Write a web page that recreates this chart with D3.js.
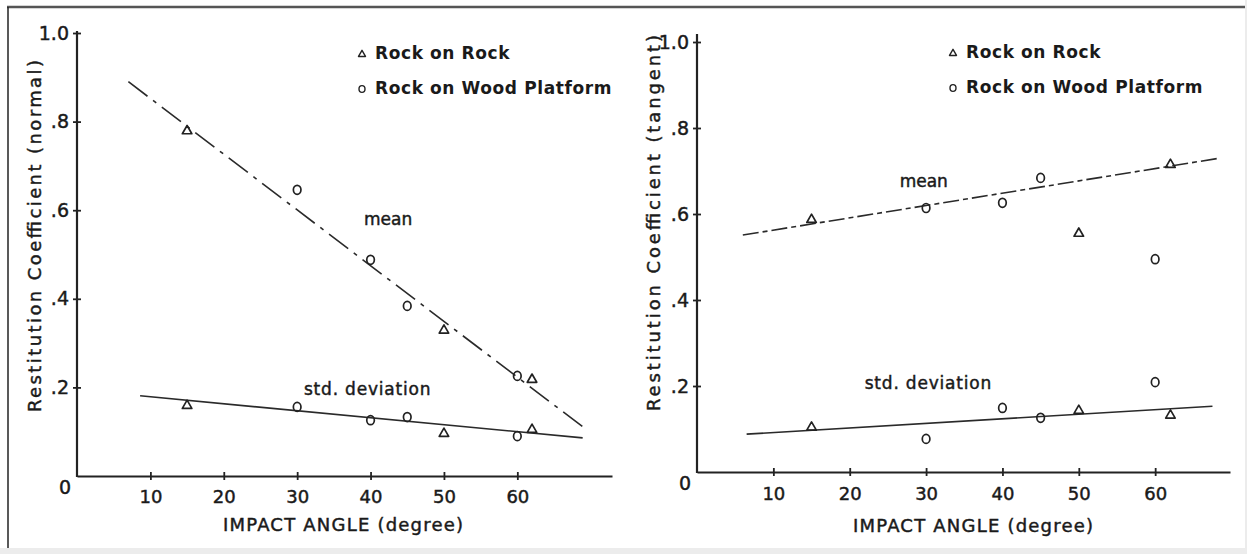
<!DOCTYPE html>
<html>
<head>
<meta charset="utf-8">
<script src="https://cdn.jsdelivr.net/npm/d3@7"></script>
<style>
  html, body { margin: 0; padding: 0; background: #fff; }
  svg { display: block; }
  text { font-family: "DejaVu Sans", sans-serif; fill: #1a1a1a; }
  text.heavy { stroke: #1a1a1a; stroke-width: 0.45px; }
</style>
</head>
<body>
<svg id="chart" width="1247" height="554"></svg>
<script>
// Impact test results: restitution coefficients against impact angle
const angles   = [15, 30, 40, 45, 50, 60, 62];
const surfaces = ["rock", "wood", "wood", "wood", "rock", "wood", "rock"];

// normal component
const normalMean = [0.78, 0.646, 0.488, 0.384, 0.33, 0.226, 0.219];
const normalStd  = [0.16, 0.156, 0.126, 0.133, 0.097, 0.09, 0.106];
// tangential component
const tangentMean = [0.588, 0.614, 0.626, 0.684, 0.556, 0.495, 0.716];
const tangentStd  = [0.105, 0.077, 0.149, 0.126, 0.144, 0.209, 0.133];

// fitted trend lines: [angle, coefficient] at each end
const normalMeanFit  = [[7.0, 0.89], [69.0, 0.11]];
const normalStdFit   = [[8.6, 0.181], [68.9, 0.086]];
const tangentMeanFit = [[6.0, 0.551], [68.5, 0.73]];
const tangentStdFit  = [[6.5, 0.088], [67.5, 0.153]];

const xTicks = [10, 20, 30, 40, 50, 60];
const yTicks = [0.2, 0.4, 0.6, 0.8, 1.0];
const yTickLabels = [".2", ".4", ".6", ".8", "1.0"];
const legendLabels = ["Rock on Rock", "Rock on Wood Platform"];
const xTitle = "IMPACT ANGLE (degree)";

const svg = d3.select("#chart");

// scanned page frame
svg.append("rect").attr("x", 1245).attr("y", 0).attr("width", 2).attr("height", 554).attr("fill", "#ececec");
svg.append("rect").attr("x", 0).attr("y", 548).attr("width", 1247).attr("height", 6).attr("fill", "#ececec");
svg.append("line").attr("x1", 7).attr("x2", 1245).attr("y1", 7).attr("y2", 7)
  .attr("stroke", "#555").attr("stroke-width", 2.5);
svg.append("line").attr("x1", 8).attr("x2", 8).attr("y1", 7).attr("y2", 548)
  .attr("stroke", "#222").attr("stroke-width", 1.5);

const panels = [
  {
    x0: 77, x1: 612, xMax: 72.9, y0: 476, y1: 33, axisTop: 31,
    yTitle: "Restitution Coefficient (normal)", yTitleX: 36, yTitleY: 236, yTitleLen: 352,
    xTitleX: 343, xTitleY: 531, xTitleLen: 240, tickPad: 10,
    legendX: 362, legendY: 54,
    mean: normalMean, std: normalStd, meanFit: normalMeanFit, stdFit: normalStdFit,
    meanDash: "24,7,4,7",
    meanLabel: [42.4, 0.578], stdLabel: [39.6, 0.194]
  },
  {
    x0: 697, x1: 1230, xMax: 69.8, y0: 472, y1: 42, axisTop: 34,
    yTitle: "Restitution Coefficient (tangent)", yTitleX: 655, yTitleY: 223, yTitleLen: 376,
    xTitleX: 973, xTitleY: 532, xTitleLen: 240, tickPad: 11,
    legendX: 953, legendY: 53,
    mean: tangentMean, std: tangentStd, meanFit: tangentMeanFit, stdFit: tangentStdFit,
    meanDash: "16,4,5,4",
    meanLabel: [29.7, 0.675], stdLabel: [30.3, 0.204]
  }
];

function triangle(g, cx, cy, s, sw) {
  const h = s * 0.87;
  g.append("path")
    .attr("d", `M${cx},${cy - h * 0.6}L${cx + s / 2},${cy + h * 0.4}L${cx - s / 2},${cy + h * 0.4}Z`)
    .attr("fill", "none").attr("stroke", "#222").attr("stroke-width", sw)
    .attr("stroke-linejoin", "round");
}
function ring(g, cx, cy, rx, ry, sw) {
  g.append("ellipse").attr("cx", cx).attr("cy", cy).attr("rx", rx).attr("ry", ry)
    .attr("fill", "none").attr("stroke", "#222").attr("stroke-width", sw);
}

panels.forEach(p => {
  const x = d3.scaleLinear().domain([0, p.xMax]).range([p.x0, p.x1]);
  const y = d3.scaleLinear().domain([0, 1]).range([p.y0, p.y1]);
  const g = svg.append("g");

  // axes with ticks crossing the line
  const gx = g.append("g").attr("transform", `translate(0,${p.y0})`)
    .call(d3.axisBottom(x).tickValues(xTicks).tickSizeInner(4).tickSizeOuter(0).tickPadding(p.tickPad));
  gx.select(".domain").attr("stroke", "#222").attr("stroke-width", 2.2);
  gx.selectAll(".tick line").attr("y1", -4).attr("stroke", "#222").attr("stroke-width", 1.8);
  gx.selectAll(".tick text").attr("font-size", 18).attr("fill", "#1a1a1a").attr("class", "heavy")
    .attr("font-family", "DejaVu Sans, sans-serif");

  const gy = g.append("g").attr("transform", `translate(${p.x0},0)`)
    .call(d3.axisLeft(y).tickValues(yTicks).tickFormat((d, i) => yTickLabels[i])
      .tickSizeInner(4).tickSizeOuter(0).tickPadding(4));
  gy.select(".domain").remove();
  gy.append("line").attr("x1", 0).attr("x2", 0).attr("y1", p.y0 + 1).attr("y2", p.axisTop)
    .attr("stroke", "#222").attr("stroke-width", 2.2);
  gy.selectAll(".tick line").attr("x1", 4).attr("stroke", "#222").attr("stroke-width", 1.8);
  gy.selectAll(".tick text").attr("font-size", 19).attr("fill", "#1a1a1a").attr("class", "heavy")
    .attr("font-family", "DejaVu Sans, sans-serif");

  // origin label
  g.append("text").attr("class", "heavy").attr("x", p.x0 - 12).attr("y", p.y0 + 12)
    .attr("text-anchor", "middle").attr("dominant-baseline", "middle")
    .attr("font-size", 19).text("0");

  // axis titles
  g.append("text").attr("class", "heavy").attr("x", p.xTitleX).attr("y", p.xTitleY)
    .attr("text-anchor", "middle").attr("font-size", 18)
    .attr("textLength", p.xTitleLen).attr("lengthAdjust", "spacing")
    .text(xTitle);
  g.append("text").attr("class", "heavy")
    .attr("transform", `translate(${p.yTitleX},${p.yTitleY}) rotate(-90)`)
    .attr("text-anchor", "middle").attr("dominant-baseline", "middle").attr("font-size", 18)
    .attr("textLength", p.yTitleLen).attr("lengthAdjust", "spacing")
    .text(p.yTitle);

  // legend
  triangle(g, p.legendX, p.legendY, 7, 1.4);
  ring(g, p.legendX, p.legendY + 35, 3, 3.4, 1.4);
  legendLabels.forEach((t, i) => {
    g.append("text").attr("x", p.legendX + 13).attr("y", p.legendY + 35 * i)
      .attr("dominant-baseline", "middle").attr("font-size", 17).attr("font-weight", "bold")
      .attr("letter-spacing", 0.6).text(t);
  });

  // fitted lines
  const line = d3.line().x(d => x(d[0])).y(d => y(d[1]));
  g.append("path").attr("d", line(p.meanFit)).attr("fill", "none")
    .attr("stroke", "#2a2a2a").attr("stroke-width", 1.6).attr("stroke-dasharray", p.meanDash);
  g.append("path").attr("d", line(p.stdFit)).attr("fill", "none")
    .attr("stroke", "#2a2a2a").attr("stroke-width", 1.6);

  // line labels
  g.append("text").attr("class", "heavy").attr("x", x(p.meanLabel[0])).attr("y", y(p.meanLabel[1]))
    .attr("text-anchor", "middle").attr("dominant-baseline", "middle").attr("font-size", 17)
    .text("mean");
  g.append("text").attr("class", "heavy").attr("x", x(p.stdLabel[0])).attr("y", y(p.stdLabel[1]))
    .attr("text-anchor", "middle").attr("dominant-baseline", "middle").attr("font-size", 17)
    .attr("letter-spacing", 0.8).text("std. deviation");

  // measured points
  [p.mean, p.std].forEach(vals => {
    vals.forEach((v, i) => {
      const cx = x(angles[i]), cy = y(v);
      if (surfaces[i] === "rock") triangle(g, cx, cy, 9.5, 1.7);
      else ring(g, cx, cy, 3.8, 4.5, 1.7);
    });
  });
});
</script>
</body>
</html>
